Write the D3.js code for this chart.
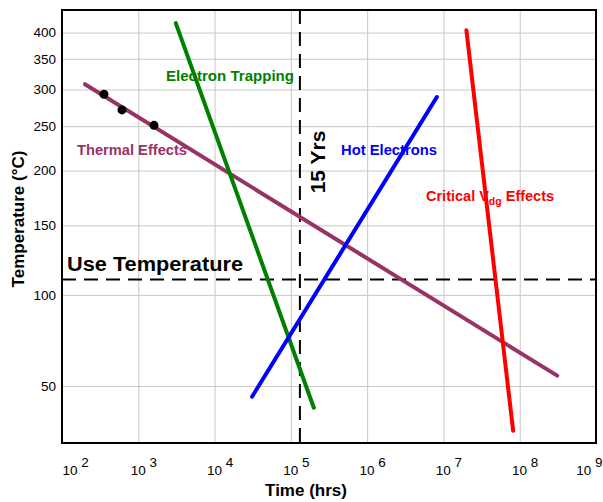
<!DOCTYPE html>
<html>
<head>
<meta charset="utf-8">
<script src="https://cdn.jsdelivr.net/npm/d3@7"></script>
<style>
    body { margin: 0; background: #fff; }
    svg { display: block; font-family: "Liberation Sans", Arial, sans-serif; }
    .grid line { stroke: #c8c8c8; stroke-width: 1; }
    .grid path { display: none; }
    .tick-label { font-size: 13.5px; fill: #000; }
</style>
</head>
<body>
<div id="chart"></div>
<script>
// tick values
var timeTicks = [1e2, 1e3, 1e4, 1e5, 1e6, 1e7, 1e8, 1e9];
var tempTicks = [50, 100, 150, 200, 250, 300, 350, 400];

// failure mechanism lines, [time (hrs), temperature (C)]
var thermalLine = [[200, 308], [3.1e8, 55]];
var thermalPoints = [[355, 293], [611, 271], [1607, 251]];
var trappingLine = [[3100, 420], [2.0e5, 40]];
var hotElectronLine = [[3.1e4, 45], [8.2e6, 289]];
var criticalVdgLine = [[2.0e7, 405], [8.2e7, 30]];

var useTemp = 110;          // C
var lifetimeHrs = 15 * 8760; // 15 years

window.onload = function () {
    var margin = {top: 10, right: 7, bottom: 59, left: 62},
        width = 603 - margin.left - margin.right,
        height = 502 - margin.top - margin.bottom;

    var svg = d3.select("#chart")
        .append("svg")
        .attr("width", width + margin.left + margin.right)
        .attr("height", height + margin.top + margin.bottom)
        .append("g")
        .attr("transform", "translate(" + margin.left + "," + margin.top + ")");

    // x: log time
    var x = d3.scaleLog()
        .domain([1e2, 1e9])
        .range([0, width]);

    // y: Arrhenius axis, linear in 1000/T(K)
    var invT = function (c) { return 1000 / (c + 273.15); };
    var yInv = d3.scaleLinear()
        .domain([invT(25), invT(450)])
        .range([height, 0]);
    var y = function (c) { return yInv(invT(c)); };

    // gridlines
    svg.append("g")
        .attr("class", "grid")
        .attr("transform", "translate(0," + height + ")")
        .call(d3.axisBottom(x).tickValues(timeTicks).tickSize(-height).tickFormat(""));
    svg.append("g")
        .attr("class", "grid")
        .call(d3.axisLeft(yInv).tickValues(tempTicks.map(invT)).tickSize(-width).tickFormat(""));

    // y tick labels
    var yAxis = svg.append("g")
        .call(d3.axisLeft(yInv)
            .tickValues(tempTicks.map(invT))
            .tickSize(0)
            .tickPadding(6)
            .tickFormat(function (v) { return Math.round(1000 / v - 273.15); }));
    yAxis.select(".domain").remove();
    yAxis.selectAll("text")
        .attr("class", "tick-label")
        .style("font-family", "'Liberation Sans', Arial, sans-serif");

    // x tick labels, 10 with exponent
    var xAxis = svg.append("g")
        .attr("transform", "translate(0," + height + ")")
        .call(d3.axisBottom(x).tickValues(timeTicks).tickSize(0).tickFormat(""));
    xAxis.select(".domain").remove();
    xAxis.selectAll(".tick")
        .append("text")
        .attr("class", "tick-label")
        .attr("y", 32)
        .attr("text-anchor", function (d, i) {
            return i === 0 ? "start" : (i === timeTicks.length - 1 ? "end" : "middle");
        })
        .attr("x", function (d, i) {
            return i === 0 ? 0 : (i === timeTicks.length - 1 ? 6 : 5);
        })
        .each(function (d) {
            var t = d3.select(this);
            t.append("tspan").text("10 ");
            t.append("tspan").attr("dy", -8).text(Math.round(Math.log10(d)));
        });

    var line = d3.line()
        .x(function (d) { return x(d[0]); })
        .y(function (d) { return y(d[1]); });

    // reference lines
    svg.append("line")
        .attr("x1", 0).attr("x2", width)
        .attr("y1", y(useTemp)).attr("y2", y(useTemp))
        .style("stroke", "#000").style("stroke-width", 2)
        .style("stroke-dasharray", "14,8");
    svg.append("line")
        .attr("x1", x(lifetimeHrs)).attr("x2", x(lifetimeHrs))
        .attr("y1", 0).attr("y2", height)
        .style("stroke", "#000").style("stroke-width", 2)
        .style("stroke-dasharray", "14,8");

    var series = [
        {data: thermalLine, color: "#993366"},
        {data: trappingLine, color: "#008000"},
        {data: hotElectronLine, color: "#0000ff"},
        {data: criticalVdgLine, color: "#ff0000"}
    ];
    svg.selectAll(".mech")
        .data(series)
        .enter()
        .append("path")
        .attr("class", "mech")
        .attr("d", function (d) { return line(d.data); })
        .style("fill", "none")
        .style("stroke", function (d) { return d.color; })
        .style("stroke-width", 4)
        .style("stroke-linecap", "round");

    svg.selectAll(".pt")
        .data(thermalPoints)
        .enter()
        .append("circle")
        .attr("class", "pt")
        .attr("cx", function (d) { return x(d[0]); })
        .attr("cy", function (d) { return y(d[1]); })
        .attr("r", 4.5)
        .style("fill", "#000");

    // frame
    svg.append("rect")
        .attr("width", width).attr("height", height)
        .style("fill", "none").style("stroke", "#000").style("stroke-width", 2);

    // annotations
    function label(txt, px, py, color, size, len) {
        var t = svg.append("text")
            .attr("x", px).attr("y", py)
            .style("font-weight", "bold")
            .style("font-size", size + "px")
            .style("fill", color)
            .text(txt);
        if (len) t.attr("textLength", len).attr("lengthAdjust", "spacingAndGlyphs");
        return t;
    }
    label("Electron Trapping", 104, 71, "#008000", 14, 128);
    label("Thermal Effects", 15, 145, "#993366", 14, 110);
    label("Hot Electrons", 279, 145, "#0000ff", 14, 96);
    var crit = label("Critical V", 364, 191, "#ff0000", 14.5);
    crit.append("tspan").attr("dy", 4).style("font-size", "10.5px").text("dg");
    crit.append("tspan").attr("dy", -4).text(" Effects");
    label("Use Temperature", 5, 261, "#000", 20, 176);

    svg.append("text")
        .attr("transform", "translate(" + (x(lifetimeHrs) + 25) + "," + 152 + ") rotate(-90)")
        .style("text-anchor", "middle")
        .style("font-weight", "bold")
        .style("font-size", "21px")
        .text("15 Yrs");

    // axis titles
    svg.append("text")
        .attr("transform", "translate(" + (width / 2 - 23) + "," + (height + 53) + ")")
        .style("text-anchor", "middle")
        .style("font-weight", "bold")
        .style("font-size", "17px")
        .text("Time (hrs)");

    svg.append("text")
        .attr("transform", "rotate(-90)")
        .attr("y", 24 - margin.left)
        .attr("x", -209)
        .style("text-anchor", "middle")
        .style("font-weight", "bold")
        .style("font-size", "17px")
        .text("Temperature (°C)");
};
</script>
</body>
</html>
